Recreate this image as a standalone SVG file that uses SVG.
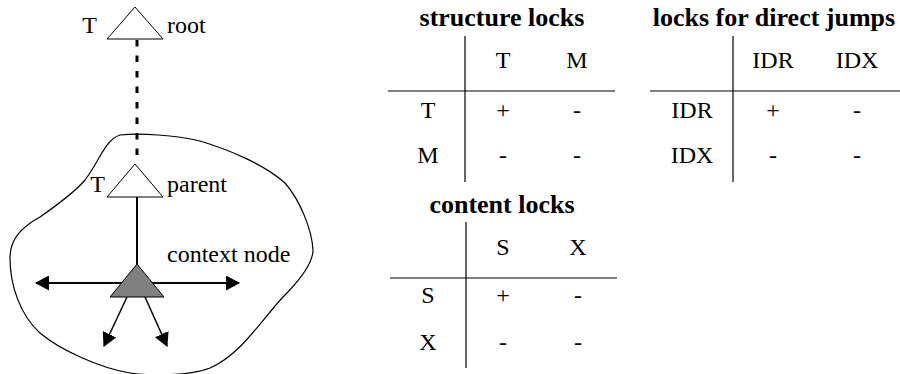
<svg xmlns="http://www.w3.org/2000/svg" width="900" height="374" viewBox="0 0 900 374">
<style>
text{font-family:'Liberation Serif','Times New Roman','DejaVu Serif',Times,serif;font-size:24px;fill:#000}
.t{font-weight:bold;font-size:26px;text-anchor:middle}
.c{text-anchor:middle}
.rule{stroke:#000;stroke-width:1.2;fill:none}
.tri{stroke:#000;stroke-width:1;fill:#fff}
.ctx{stroke:#000;stroke-width:1;fill:#808080}
.edge{stroke:#000;fill:none}
</style>
<defs>
<marker id="ah" viewBox="0 0 14 15" refX="13" refY="7.5" markerWidth="14" markerHeight="15" markerUnits="userSpaceOnUse" orient="auto-start-reverse">
<path d="M0,0 L14,7.5 L0,15 Z" fill="#000"/>
</marker>
</defs>
<g id="region">
<path d="M120,135 C140,133 175,135 200,141 C230,150 265,165 285,183 C300,200 312,230 313,250 C313,262 300,280 283,297 C260,322 240,355 210,368 C190,376 150,376 130,373 C100,368 60,350 40,333 C20,315 10,285 10,258 C10,240 20,228 40,217 C60,203 75,192 85,180 C100,160 105,140 120,135 Z" fill="none" stroke="#000" stroke-width="1.2"/>
</g>
<g id="connectors">
<line class="edge" x1="137" y1="40" x2="137" y2="164" stroke-width="3" stroke-dasharray="6.5 9"/>
<line class="edge" x1="137" y1="197" x2="137" y2="265" stroke-width="2"/>
<line class="edge" x1="36" y1="283" x2="239" y2="283" stroke-width="2" marker-start="url(#ah)" marker-end="url(#ah)"/>
<line class="edge" x1="127" y1="297" x2="104" y2="346" stroke-width="1.5" marker-end="url(#ah)"/>
<line class="edge" x1="145" y1="297" x2="167" y2="346" stroke-width="1.5" marker-end="url(#ah)"/>
</g>
<g id="root">
<polygon class="tri" points="135,7 107,39 163,39"/>
<text x="89.5" y="33" class="c" font-family="Liberation Serif">T</text>
<text x="167" y="33" font-family="Liberation Serif">root</text>
</g>
<g id="parent">
<polygon class="tri" points="135,164 107,197 163,197"/>
<text x="97.5" y="192" class="c">T</text>
<text x="167" y="192">parent</text>
</g>
<g id="context">
<polygon class="ctx" points="137,264 110,297 164,297"/>
<text x="167" y="262">context node</text>
</g>
<g id="structure-locks">
<text x="502" y="26" class="t">structure locks</text>
<line class="rule" x1="465" y1="36" x2="465" y2="182"/>
<line class="rule" x1="388" y1="91" x2="615" y2="91"/>
<text x="503" y="68" class="c">T</text>
<text x="577" y="68" class="c">M</text>
<text x="428" y="118" class="c">T</text>
<text x="503" y="118" class="c">+</text>
<text x="577" y="118" class="c">-</text>
<text x="428" y="163" class="c">M</text>
<text x="503" y="163" class="c">-</text>
<text x="577" y="163" class="c">-</text>
</g>
<g id="direct-jump-locks">
<text x="774" y="26" class="t">locks for direct jumps</text>
<line class="rule" x1="733" y1="36" x2="733" y2="182"/>
<line class="rule" x1="650" y1="91" x2="900" y2="91"/>
<text x="773" y="68" class="c">IDR</text>
<text x="857" y="68" class="c">IDX</text>
<text x="692" y="118" class="c">IDR</text>
<text x="773" y="118" class="c">+</text>
<text x="857" y="118" class="c">-</text>
<text x="692" y="163" class="c">IDX</text>
<text x="773" y="163" class="c">-</text>
<text x="857" y="163" class="c">-</text>
</g>
<g id="content-locks">
<text x="502" y="213" class="t">content locks</text>
<line class="rule" x1="466" y1="222" x2="466" y2="368"/>
<line class="rule" x1="390" y1="278" x2="617" y2="278"/>
<text x="503" y="255" class="c">S</text>
<text x="578" y="255" class="c">X</text>
<text x="428" y="303" class="c">S</text>
<text x="503" y="303" class="c">+</text>
<text x="578" y="303" class="c">-</text>
<text x="428" y="350" class="c">X</text>
<text x="503" y="350" class="c">-</text>
<text x="578" y="350" class="c">-</text>
</g>
</svg>
